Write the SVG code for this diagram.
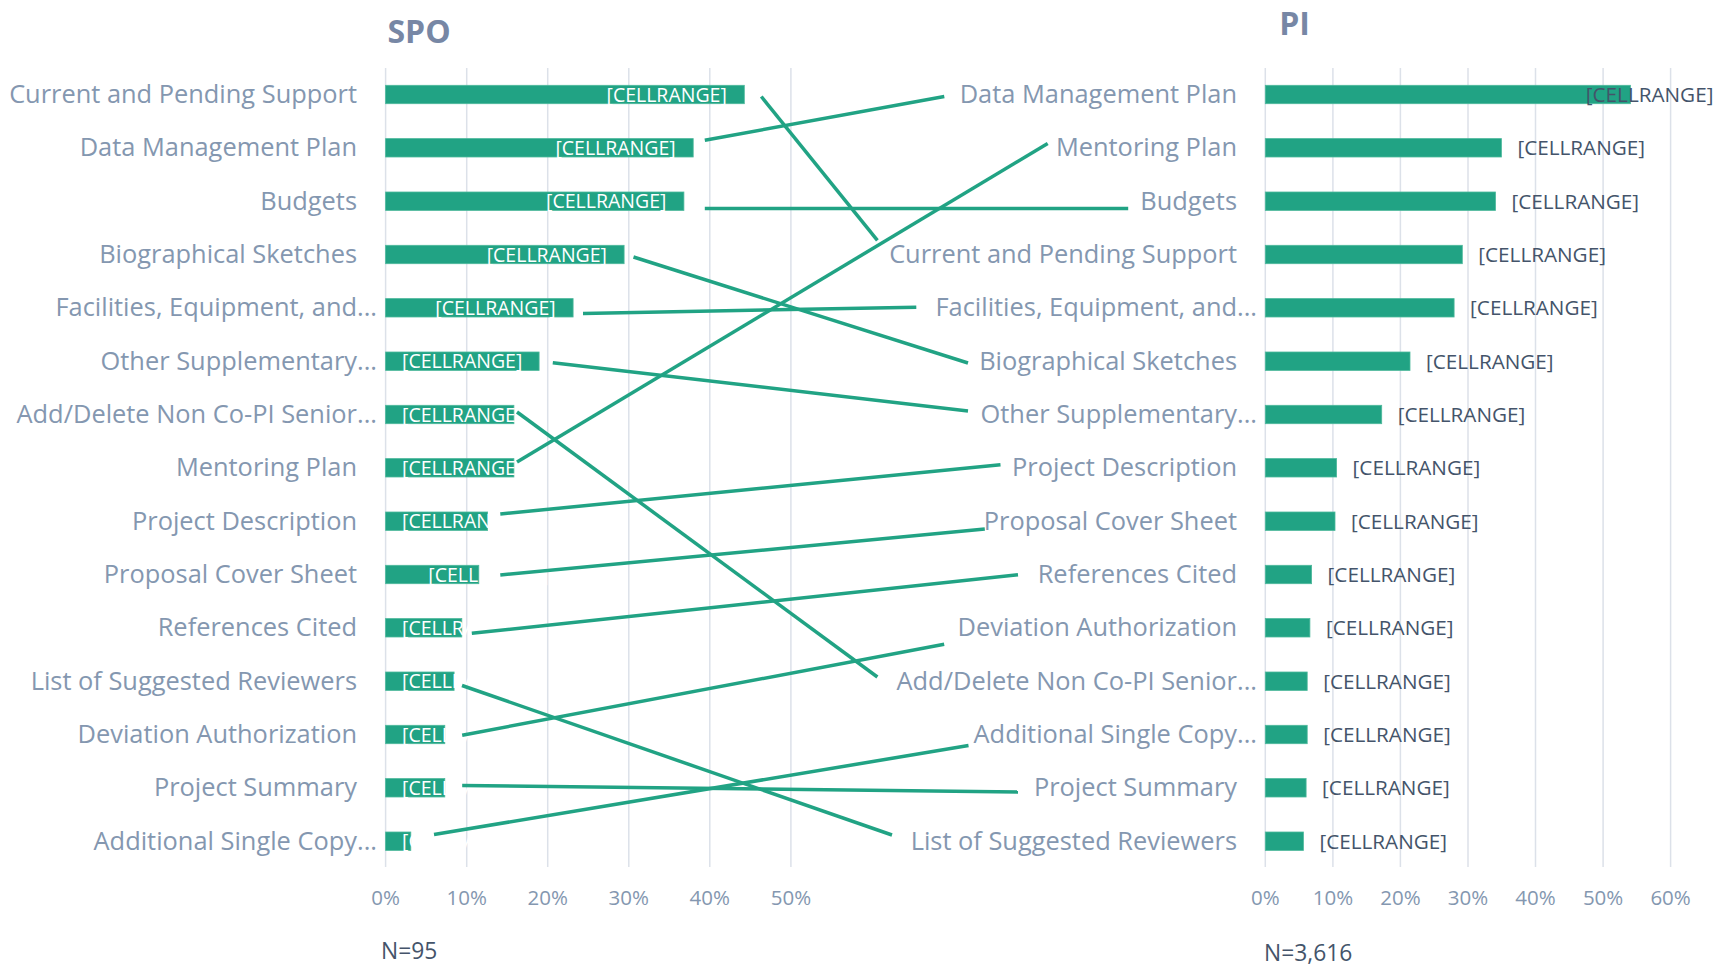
<svg xmlns="http://www.w3.org/2000/svg" width="1713" height="969" viewBox="0 0 1713 969">
<style>
.title{font-family:"Open Sans","Liberation Sans",sans-serif;font-weight:bold;font-size:32px;fill:#7787A5;text-anchor:middle}
.cat{font-family:"Open Sans","Liberation Sans",sans-serif;font-size:25.4px;fill:#8497B0;text-anchor:end}
.tick{font-family:"Open Sans","Liberation Sans",sans-serif;font-size:20.5px;fill:#8497B0;text-anchor:middle}
.n{font-family:"Open Sans","Liberation Sans",sans-serif;font-size:22.8px;fill:#44546A}
.dl{font-family:"Open Sans","Liberation Sans",sans-serif;font-size:19.5px;fill:#FFFFFF}
.dlp{font-family:"Open Sans","Liberation Sans",sans-serif;font-size:20.7px;fill:#44546A}
.bar{fill:#21A384;stroke:#4DB89C;stroke-width:0.8}
.grid{stroke:#DCE1E9;stroke-width:1.5}
.con{stroke:#21A384;stroke-width:3.5;fill:none;stroke-linecap:butt}
</style>
<rect width="1713" height="969" fill="#FFFFFF"/>

<g id="spo-chart">
  <text class="title" x="419" y="43">SPO</text>
  <g id="spo-grid">
    <line class="grid" x1="385.6" y1="68" x2="385.6" y2="867"/>
    <line class="grid" x1="466.7" y1="68" x2="466.7" y2="867"/>
    <line class="grid" x1="547.7" y1="68" x2="547.7" y2="867"/>
    <line class="grid" x1="628.8" y1="68" x2="628.8" y2="867"/>
    <line class="grid" x1="709.8" y1="68" x2="709.8" y2="867"/>
    <line class="grid" x1="790.9" y1="68" x2="790.9" y2="867"/>
  </g>
  <g id="spo-axis">
    <text class="tick" x="385.6" y="905">0%</text>
    <text class="tick" x="466.7" y="905">10%</text>
    <text class="tick" x="547.7" y="905">20%</text>
    <text class="tick" x="628.8" y="905">30%</text>
    <text class="tick" x="709.8" y="905">40%</text>
    <text class="tick" x="790.9" y="905">50%</text>
  </g>
  <text class="n" x="381" y="959">N=95</text>

  <g id="spo-current"><text class="cat" x="357" y="103">Current and Pending Support</text><rect class="bar" x="385.6" y="85.3" width="358.7" height="18.4"/><text class="dl" x="726.8" y="101.5" text-anchor="end">[CELLRANGE]</text></g>
  <g id="spo-data"><text class="cat" x="357" y="156.3">Data Management Plan</text><rect class="bar" x="385.6" y="138.6" width="307.6" height="18.4"/><text class="dl" x="675.7" y="154.8" text-anchor="end">[CELLRANGE]</text></g>
  <g id="spo-budgets"><text class="cat" x="357" y="209.7">Budgets</text><rect class="bar" x="385.6" y="192" width="298.3" height="18.4"/><text class="dl" x="666.4" y="208.2" text-anchor="end">[CELLRANGE]</text></g>
  <g id="spo-bio"><text class="cat" x="357" y="263">Biographical Sketches</text><rect class="bar" x="385.6" y="245.3" width="238.5" height="18.4"/><text class="dl" x="607" y="261.5" text-anchor="end">[CELLRANGE]</text></g>
  <g id="spo-facilities"><text class="cat" x="377" y="316.3">Facilities, Equipment, and...</text><rect class="bar" x="385.6" y="298.6" width="187.5" height="18.4"/><text class="dl" x="555.6" y="314.8" text-anchor="end">[CELLRANGE]</text></g>
  <g id="spo-other"><text class="cat" x="377" y="369.7">Other Supplementary...</text><rect class="bar" x="385.6" y="352" width="153.5" height="18.4"/><text class="dl" x="402" y="368.2">[CELLRANGE]</text></g>
  <g id="spo-adddelete"><text class="cat" x="377" y="423">Add/Delete Non Co-PI Senior...</text><rect class="bar" x="385.6" y="405.3" width="128.3" height="18.4"/><text class="dl" x="402" y="421.5">[CELLRANGE]</text></g>
  <g id="spo-mentoring"><text class="cat" x="357" y="476.3">Mentoring Plan</text><rect class="bar" x="385.6" y="458.6" width="128.3" height="18.4"/><text class="dl" x="402" y="474.8">[CELLRANGE]</text></g>
  <g id="spo-projdesc"><text class="cat" x="357" y="529.7">Project Description</text><rect class="bar" x="385.6" y="512" width="102" height="18.4"/><text class="dl" x="402" y="528.2">[CELLRANGE]</text></g>
  <g id="spo-cover"><text class="cat" x="357" y="583">Proposal Cover Sheet</text><rect class="bar" x="385.6" y="565.3" width="93.2" height="18.4"/><text class="dl" x="428.3" y="581.5">[CELLRANGE]</text></g>
  <g id="spo-refs"><text class="cat" x="357" y="636.3">References Cited</text><rect class="bar" x="385.6" y="618.6" width="76.2" height="18.4"/><text class="dl" x="402" y="634.8">[CELLRANGE]</text></g>
  <g id="spo-reviewers"><text class="cat" x="357" y="689.7">List of Suggested Reviewers</text><rect class="bar" x="385.6" y="672" width="68.5" height="18.4"/><text class="dl" x="402" y="688.2">[CELLRANGE]</text></g>
  <g id="spo-deviation"><text class="cat" x="357" y="743">Deviation Authorization</text><rect class="bar" x="385.6" y="725.3" width="59.2" height="18.4"/><text class="dl" x="402" y="741.5">[CELLRANGE]</text></g>
  <g id="spo-summary"><text class="cat" x="357" y="796.3">Project Summary</text><rect class="bar" x="385.6" y="778.6" width="59.2" height="18.4"/><text class="dl" x="402" y="794.8">[CELLRANGE]</text></g>
  <g id="spo-additional"><text class="cat" x="377" y="849.7">Additional Single Copy...</text><rect class="bar" x="385.6" y="832" width="25.2" height="18.4"/><text class="dl" x="402" y="848.2">[CELLRANGE]</text></g>
</g>

<g id="pi-chart">
  <text class="title" x="1294.5" y="34.8">PI</text>
  <g id="pi-grid">
    <line class="grid" x1="1265.3" y1="68" x2="1265.3" y2="867"/>
    <line class="grid" x1="1332.9" y1="68" x2="1332.9" y2="867"/>
    <line class="grid" x1="1400.4" y1="68" x2="1400.4" y2="867"/>
    <line class="grid" x1="1468" y1="68" x2="1468" y2="867"/>
    <line class="grid" x1="1535.5" y1="68" x2="1535.5" y2="867"/>
    <line class="grid" x1="1603.1" y1="68" x2="1603.1" y2="867"/>
    <line class="grid" x1="1670.6" y1="68" x2="1670.6" y2="867"/>
  </g>
  <g id="pi-axis">
    <text class="tick" x="1265.3" y="905">0%</text>
    <text class="tick" x="1332.9" y="905">10%</text>
    <text class="tick" x="1400.4" y="905">20%</text>
    <text class="tick" x="1468" y="905">30%</text>
    <text class="tick" x="1535.5" y="905">40%</text>
    <text class="tick" x="1603.1" y="905">50%</text>
    <text class="tick" x="1670.6" y="905">60%</text>
  </g>
  <text class="n" x="1264" y="961">N=3,616</text>

  <g id="pi-data"><text class="cat" x="1237" y="103">Data Management Plan</text><rect class="bar" x="1265.3" y="85.3" width="365.1" height="18.4"/><text class="dlp" x="1585.8" y="102">[CELLRANGE]</text></g>
  <g id="pi-mentoring"><text class="cat" x="1237" y="156.3">Mentoring Plan</text><rect class="bar" x="1265.3" y="138.6" width="236.1" height="18.4"/><text class="dlp" x="1517.4" y="155.3">[CELLRANGE]</text></g>
  <g id="pi-budgets"><text class="cat" x="1237" y="209.7">Budgets</text><rect class="bar" x="1265.3" y="192" width="230.2" height="18.4"/><text class="dlp" x="1511.5" y="208.7">[CELLRANGE]</text></g>
  <g id="pi-current"><text class="cat" x="1237" y="263">Current and Pending Support</text><rect class="bar" x="1265.3" y="245.3" width="197" height="18.4"/><text class="dlp" x="1478.3" y="262">[CELLRANGE]</text></g>
  <g id="pi-facilities"><text class="cat" x="1257" y="316.3">Facilities, Equipment, and...</text><rect class="bar" x="1265.3" y="298.6" width="188.8" height="18.4"/><text class="dlp" x="1470.1" y="315.3">[CELLRANGE]</text></g>
  <g id="pi-bio"><text class="cat" x="1237" y="369.7">Biographical Sketches</text><rect class="bar" x="1265.3" y="352" width="144.7" height="18.4"/><text class="dlp" x="1426" y="368.7">[CELLRANGE]</text></g>
  <g id="pi-other"><text class="cat" x="1257" y="423">Other Supplementary...</text><rect class="bar" x="1265.3" y="405.3" width="116.4" height="18.4"/><text class="dlp" x="1397.7" y="422">[CELLRANGE]</text></g>
  <g id="pi-projdesc"><text class="cat" x="1237" y="476.3">Project Description</text><rect class="bar" x="1265.3" y="458.6" width="71.3" height="18.4"/><text class="dlp" x="1352.6" y="475.3">[CELLRANGE]</text></g>
  <g id="pi-cover"><text class="cat" x="1237" y="529.7">Proposal Cover Sheet</text><rect class="bar" x="1265.3" y="512" width="69.7" height="18.4"/><text class="dlp" x="1351" y="528.7">[CELLRANGE]</text></g>
  <g id="pi-refs"><text class="cat" x="1237" y="583">References Cited</text><rect class="bar" x="1265.3" y="565.3" width="46.3" height="18.4"/><text class="dlp" x="1327.6" y="582">[CELLRANGE]</text></g>
  <g id="pi-deviation"><text class="cat" x="1237" y="636.3">Deviation Authorization</text><rect class="bar" x="1265.3" y="618.6" width="44.6" height="18.4"/><text class="dlp" x="1325.9" y="635.3">[CELLRANGE]</text></g>
  <g id="pi-adddelete"><text class="cat" x="1257" y="689.7">Add/Delete Non Co-PI Senior...</text><rect class="bar" x="1265.3" y="672" width="41.9" height="18.4"/><text class="dlp" x="1323.2" y="688.7">[CELLRANGE]</text></g>
  <g id="pi-additional"><text class="cat" x="1257" y="743">Additional Single Copy...</text><rect class="bar" x="1265.3" y="725.3" width="41.9" height="18.4"/><text class="dlp" x="1323.2" y="742">[CELLRANGE]</text></g>
  <g id="pi-summary"><text class="cat" x="1237" y="796.3">Project Summary</text><rect class="bar" x="1265.3" y="778.6" width="40.8" height="18.4"/><text class="dlp" x="1322.1" y="795.3">[CELLRANGE]</text></g>
  <g id="pi-reviewers"><text class="cat" x="1237" y="849.7">List of Suggested Reviewers</text><rect class="bar" x="1265.3" y="832" width="38.1" height="18.4"/><text class="dlp" x="1319.4" y="848.7">[CELLRANGE]</text></g>
</g>

<g id="connectors">
  <line class="con" x1="761.3" y1="96.5" x2="877.4" y2="240.3"/>
  <line class="con" x1="704.8" y1="140.3" x2="944.3" y2="96.5"/>
  <line class="con" x1="704.8" y1="208.5" x2="1128.2" y2="208.5"/>
  <line class="con" x1="633.5" y1="257" x2="968" y2="363"/>
  <line class="con" x1="583" y1="313.4" x2="916.3" y2="307.2"/>
  <line class="con" x1="552.8" y1="362.7" x2="968" y2="411"/>
  <line class="con" x1="517" y1="412" x2="877.4" y2="677"/>
  <line class="con" x1="517" y1="462" x2="1047.7" y2="143.5"/>
  <line class="con" x1="500.3" y1="514" x2="1000.5" y2="464.7"/>
  <line class="con" x1="500.3" y1="575" x2="984.8" y2="529"/>
  <line class="con" x1="471.8" y1="633.3" x2="1018" y2="574.8"/>
  <line class="con" x1="462" y1="685.5" x2="892" y2="835"/>
  <line class="con" x1="462.2" y1="735.2" x2="944.2" y2="644.3"/>
  <line class="con" x1="462.2" y1="785.5" x2="1018" y2="792"/>
  <line class="con" x1="434" y1="834.5" x2="968.5" y2="745.6"/>
</g>
</svg>
